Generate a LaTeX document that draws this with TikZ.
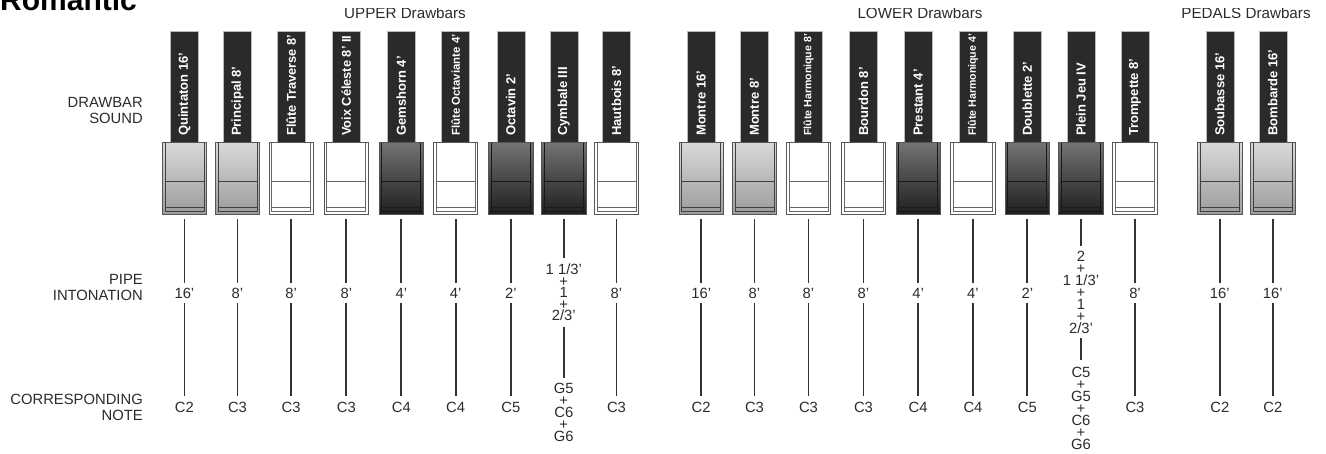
\documentclass[tikz,border=0pt]{standalone}
\usepackage{fontspec}
\setmainfont{Liberation Sans}
\definecolor{txt}{HTML}{2B2B2B}
\definecolor{barc}{HTML}{2B2A29}
\definecolor{conc}{HTML}{333333}
\definecolor{edge}{HTML}{555555}
\begin{document}
\begin{tikzpicture}[x=1pt,y=-1pt,
 lab/.style={font=\fontsize{14.8}{16.5}\selectfont,text=txt,align=right,anchor=east,inner sep=0},
 hdr/.style={font=\fontsize{15.2}{16}\selectfont,text=txt,anchor=base,inner sep=0},
 barbox/.style={fill=barc,draw=gray!55,line width=0.5,minimum width=28,minimum height=111,inner sep=0},
 barlab/.style={rotate=90,anchor=west,text=white,font=\bfseries\fontsize{#1}{#1}\selectfont,inner sep=0},
 keybox/.style={draw=edge,line width=0.9,minimum width=44.4,minimum height=71.6,inner sep=0},
 keyline/.style={line width=0.8},
 pipe/.style={font=\fontsize{14.8}{11.5}\selectfont,text=txt,align=center,inner sep=0,minimum height=19},
 note/.style={font=\fontsize{14.8}{12}\selectfont,text=txt,align=center,inner sep=0,minimum height=22},
 conn/.style={draw=conc,line width=1.8},
 connk/.style={conn,shorten <=4.3}
]
\useasboundingbox (0,0) rectangle (1326,453);
\clip (0,0) rectangle (1326,453);

\node[font=\bfseries\fontsize{30}{30}\selectfont,text=black,anchor=base west,inner sep=0] (title) at (0,10) {Romantic};

\begin{scope}
\clip (150,8.5) rectangle (1326,30);
\node[hdr] (hu) at (405,18) {UPPER Drawbars};
\node[hdr] (hl) at (920,18) {LOWER Drawbars};
\node[hdr] (hp) at (1246,18) {PEDALS Drawbars};
\end{scope}

\node[lab] (l1) at (143,110.5) {DRAWBAR\\SOUND};
\node[lab] (l2) at (143,287.5) {PIPE\\INTONATION};
\node[lab] (l3) at (143,407.5) {CORRESPONDING\\NOTE};

\foreach \i/\x/\nm/\fs/\tc/\bc/\lc in {
 1/184.4/Quintaton 16'/13/gray!30/gray!78/black!75,
 2/237.5/Principal 8'/13/gray!30/gray!78/black!75,
 3/291.2/Flûte Traverse 8'/12.8/white/white/black!60,
 4/346.3/Voix Céleste 8' II/12.8/white/white/black!60,
 5/401.3/Gemshorn 4'/13/black!55/black!88/black!90,
 6/455.7/Flûte Octaviante 4'/11.4/white/white/black!60,
 7/510.8/Octavin 2'/13/black!55/black!88/black!90,
 8/563.8/Cymbale III/13/black!55/black!88/black!90,
 9/616.5/Hautbois 8'/13/white/white/black!60,
 10/701.2/Montre 16'/13/gray!30/gray!78/black!75,
 11/754.5/Montre 8'/13/gray!30/gray!78/black!75,
 12/808.5/Flûte Harmonique 8'/10.6/white/white/black!60,
 13/863.5/Bourdon 8'/13/white/white/black!60,
 14/918.2/Prestant 4'/13/black!55/black!88/black!90,
 15/973/Flûte Harmonique 4'/10.6/white/white/black!60,
 16/1027.3/Doublette 2'/13/black!55/black!88/black!90,
 17/1081/Plein Jeu IV/13/black!55/black!88/black!90,
 18/1135/Trompette 8'/13/white/white/black!60,
 19/1219.8/Soubasse 16'/13/gray!30/gray!78/black!75,
 20/1272.8/Bombarde 16'/13/gray!30/gray!78/black!75}
{
 \node[barbox] (b\i) at (\x,87.2) {};
 \node[barlab=\fs] (t\i) at (\x,136) {\nm};
 \node[keybox,top color=\tc,bottom color=\bc] (k\i) at (\x,178.5) {};
 \draw[keyline,draw=\lc] ({\x-19.5},142.7) -- ({\x-19.5},211.6) -- ({\x+19.5},211.6) -- ({\x+19.5},142.7);
 \draw[keyline,draw=\lc] ({\x-19.5},181) -- ({\x+19.5},181) ({\x-19.5},207.3) -- ({\x+19.5},207.3);
}

\foreach \i/\x/\pp/\nt in {
 1/184.4/16'/C2, 2/237.5/8'/C3, 3/291.2/8'/C3, 4/346.3/8'/C3, 5/401.3/4'/C4,
 6/455.7/4'/C4, 7/510.8/2'/C5, 9/616.5/8'/C3,
 10/701.2/16'/C2, 11/754.5/8'/C3, 12/808.5/8'/C3, 13/863.5/8'/C3, 14/918.2/4'/C4,
 15/973/4'/C4, 16/1027.3/2'/C5, 18/1135/8'/C3,
 19/1219.8/16'/C2, 20/1272.8/16'/C2}
{
 \node[pipe] (p\i) at (\x,293) {\pp};
 \node[note] (n\i) at (\x,407) {\nt};
 \draw[connk] (k\i) -- (p\i);
 \draw[conn] (p\i) -- (n\i);
}

\node[pipe,minimum height=69] (p8) at (563.8,292.5) {1 1/3'\\+\\1\\+\\2/3'};
\node[note,minimum height=69] (n8) at (563.8,412.5) {G5\\+\\C6\\+\\G6};
\draw[connk] (k8) -- (p8);
\draw[conn] (p8) -- (n8);

\node[pipe,font=\fontsize{14.8}{12}\selectfont,minimum height=91.3] (p17) at (1081,292.3) {2\\+\\1 1/3'\\+\\1\\+\\2/3'};
\node[note,minimum height=96] (n17) at (1081,408) {C5\\+\\G5\\+\\C6\\+\\G6};
\draw[connk] (k17) -- (p17);
\draw[conn] (p17) -- (n17);
\end{tikzpicture}
\end{document}
